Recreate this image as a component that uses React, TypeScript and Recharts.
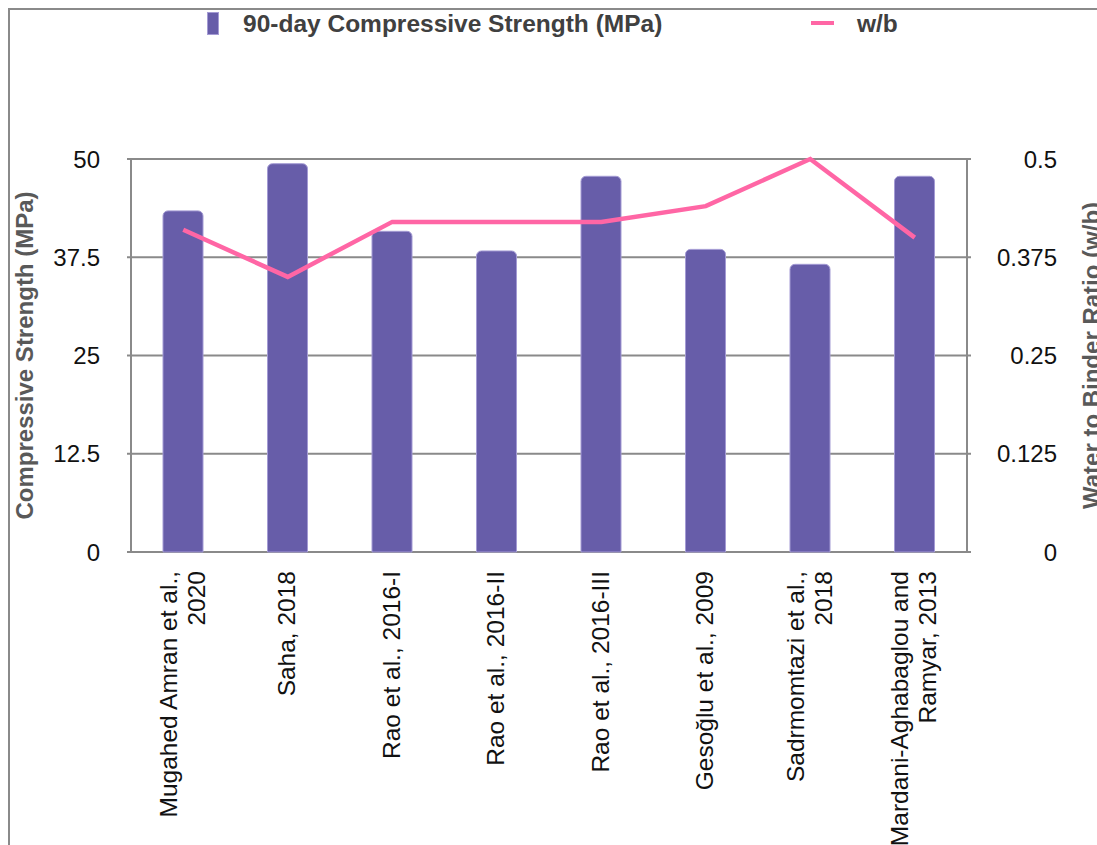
import React from 'react';
import { ComposedChart, Bar, Line, XAxis, YAxis, CartesianGrid, Legend, Label } from 'recharts';

// ─── Data ─────────────────────────────────────────────────────────────────────

const STUDIES = [
  'Mugahed Amran et al.,\n2020',
  'Saha, 2018',
  'Rao et al., 2016-I',
  'Rao et al., 2016-II',
  'Rao et al., 2016-III',
  'Gesoğlu et al., 2009',
  'Sadrmomtazi et al.,\n2018',
  'Mardani-Aghabaglou and\nRamyar, 2013',
];
const STRENGTH_MPA = [43.4, 49.4, 40.8, 38.3, 47.8, 38.5, 36.6, 47.8];
const WB_RATIO = [0.41, 0.35, 0.42, 0.42, 0.42, 0.44, 0.5, 0.4];

const STRENGTH_TICKS = [0, 12.5, 25, 37.5, 50];
const RATIO_TICKS = [0, 0.125, 0.25, 0.375, 0.5];
// category boundaries for the tick marks under the bars
const EDGE_TICKS = [...STUDIES.map((_, i) => i), STUDIES.length];

const rows = STUDIES.map((study, i) => ({ study, strength: STRENGTH_MPA[i], wb: WB_RATIO[i] }));

// ─── Styles ───────────────────────────────────────────────────────────────────

const FONT = '"Liberation Sans", Arial, Helvetica, sans-serif';
const PURPLE = '#675DA9';
const PINK = '#FF66A5';
const GRID = '#8a8a8a';
const TICK_STYLE = { fontSize: 24, fill: '#111', fontFamily: FONT };
const TITLE_STYLE = { fontSize: 24, fontWeight: 'bold', fill: '#595959', fontFamily: FONT };

// rotated, possibly two-line study labels
function StudyTick({ x, y, payload }: any) {
  const lines = String(payload.value).split('\n');
  return (
    <text
      transform={`translate(${x},${y}) rotate(-90)`}
      textAnchor="end"
      fontSize={24.5}
      fill="#111"
      fontFamily={FONT}
    >
      {lines.map((line, i) => (
        <tspan key={i} x={0} y={7.5 + (i - (lines.length - 1) / 2) * 28}>
          {line}
        </tspan>
      ))}
    </text>
  );
}

function ChartLegend() {
  return (
    <div
      style={{
        position: 'relative', height: 40, fontFamily: FONT, fontWeight: 'bold',
        fontSize: 24.5, color: '#404040',
      }}
    >
      <span
        style={{
          position: 'absolute', left: 197, top: 2, width: 10, height: 21,
          background: PURPLE, border: '1px solid #a49bd4',
        }}
      />
      <span style={{ position: 'absolute', left: 233, top: 0, lineHeight: '28px', whiteSpace: 'nowrap' }}>
        90-day Compressive Strength (MPa)
      </span>
      <span style={{ position: 'absolute', left: 801, top: 11, width: 23, height: 4, background: PINK }} />
      <span style={{ position: 'absolute', left: 847, top: 0, lineHeight: '28px' }}>w/b</span>
    </div>
  );
}

export default function App() {
  return (
    <div
      style={{
        width: 1087, height: 835, borderTop: `2px solid ${GRID}`, borderLeft: `2px solid ${GRID}`,
        background: '#fff', overflow: 'hidden',
      }}
    >
      <style>{'html, body { overflow: hidden; } body { margin: 8px 0 0 8px; }'}</style>
      <ComposedChart width={1087} height={835} data={rows} margin={{ top: 109, right: 0, bottom: 0, left: 0 }}>
        <Legend verticalAlign="top" content={<ChartLegend />} wrapperStyle={{ top: 0, left: 0, width: 1087, height: 40 }} />
        <CartesianGrid vertical={false} stroke={GRID} strokeWidth={2} yAxisId="mpa" />
        <XAxis
          xAxisId="edge" type="number" domain={[0, STUDIES.length]} ticks={EDGE_TICKS}
          tick={false} tickSize={5} height={0} stroke={GRID} strokeWidth={2}
        />
        <XAxis
          xAxisId="cat" dataKey="study" height={293} axisLine={false} tickLine={false}
          tickSize={0} tickMargin={19} interval={0} tick={<StudyTick />}
        />
        <YAxis
          yAxisId="mpa" domain={[0, 50]} ticks={STRENGTH_TICKS} width={121}
          stroke={GRID} strokeWidth={2} tickSize={4} tickMargin={27} tick={TICK_STYLE}
        >
          <Label value="Compressive Strength (MPa)" angle={-90} position="center" dx={-46} style={TITLE_STYLE} />
        </YAxis>
        <YAxis
          yAxisId="wb" orientation="right" domain={[0, 0.5]} ticks={RATIO_TICKS} width={130}
          stroke={GRID} strokeWidth={2} tickSize={4} tickMargin={86}
          tick={{ ...TICK_STYLE, textAnchor: 'end' }}
        >
          <Label value="Water to Binder Ratio (w/b)" angle={-90} position="center" dx={59} style={TITLE_STYLE} />
        </YAxis>
        <Bar
          xAxisId="cat" yAxisId="mpa" dataKey="strength" barSize={40} fill={PURPLE}
          stroke="#a49bd4" strokeWidth={1} radius={[5, 5, 0, 0]} isAnimationActive={false}
        />
        <Line
          xAxisId="cat" yAxisId="wb" dataKey="wb" type="linear" stroke={PINK} strokeWidth={4.5}
          dot={false} activeDot={false} isAnimationActive={false}
        />
      </ComposedChart>
    </div>
  );
}
